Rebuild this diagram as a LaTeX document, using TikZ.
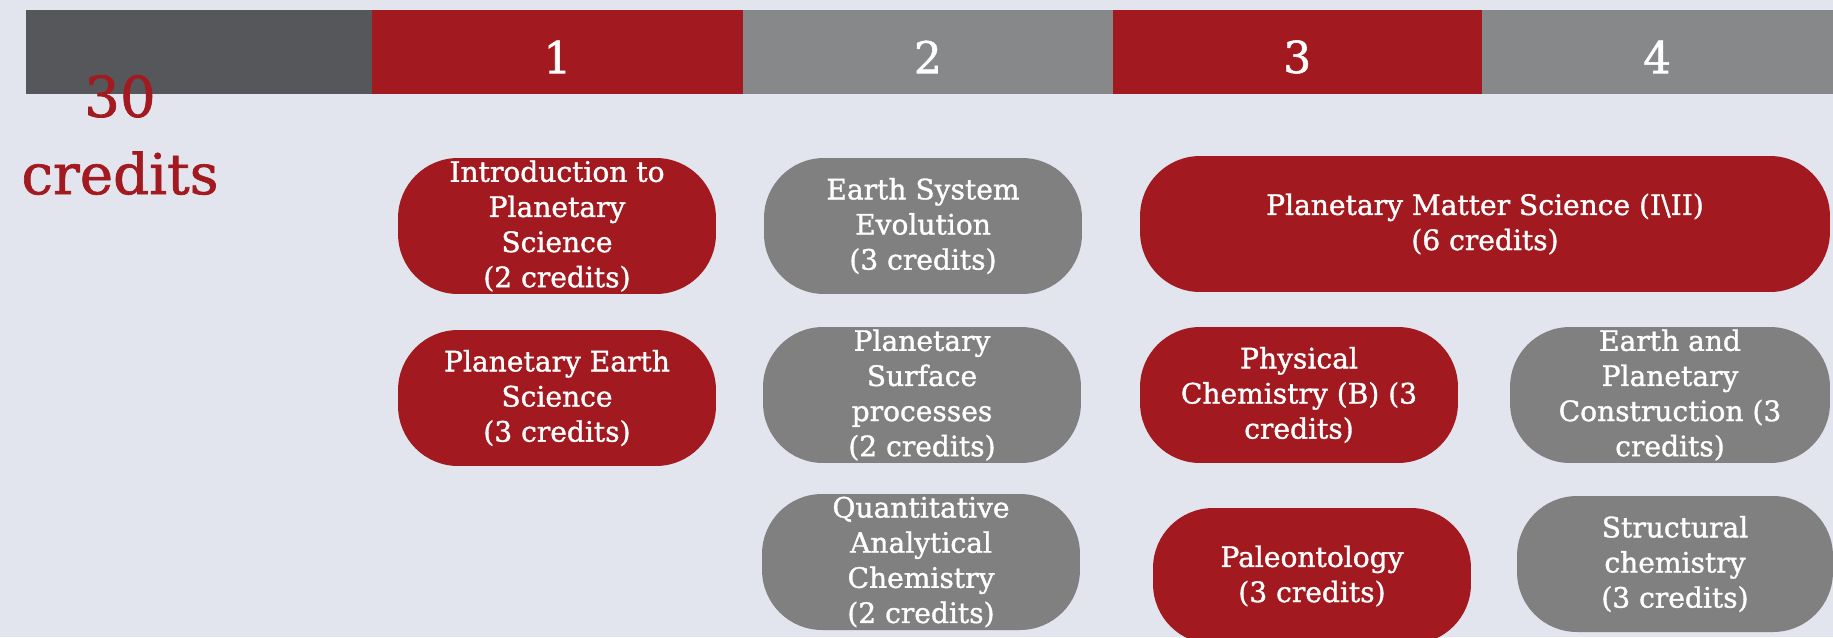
\documentclass[tikz,border=0pt]{standalone}
\usepackage{fontspec}
\setmainfont{DejaVu Serif}[FakeBold=1.2]
\usetikzlibrary{positioning}

\definecolor{hsred}{RGB}{162,26,32}
\definecolor{hsdark}{RGB}{86,87,91}
\definecolor{hsgray}{RGB}{135,136,138}
\definecolor{boxgray}{RGB}{128,128,128}
\definecolor{bgcol}{RGB}{226,228,238}

\tikzset{
  headseg/.style={anchor=north west, inner sep=0pt, outer sep=0pt, minimum height=1.68cm,
    text height=0.85cm, text=white, font=\fontsize{25}{30}\selectfont},
  course/.style={rounded corners=1.2cm, inner sep=0pt, minimum width=6.36cm, minimum height=2.72cm},
  redcourse/.style={course, fill=hsred},
  graycourse/.style={course, fill=boxgray},
  ctext/.style={text=white, align=center, inner sep=0pt, font=\fontsize{16}{20}\selectfont},
  bigred/.style={text=hsred, align=center, font=\fontsize{32}{44}\selectfont}
}

\begin{document}
\begin{tikzpicture}[x=0.02cm, y=-0.02cm]
  \useasboundingbox (0,0) rectangle (1833,637);
  \clip (0,0) rectangle (1833,637);
  \fill[bgcol] (0,0) rectangle (1833,637);

  % Year header
  \node[headseg, fill=hsdark, minimum width=6.92cm] (h0) at (26,10) {};
  \node[headseg, fill=hsred, minimum width=7.42cm, right=0pt of h0] (h1) {1};
  \node[headseg, fill=hsgray, minimum width=7.40cm, right=0pt of h1] (h2) {2};
  \node[headseg, fill=hsred, minimum width=7.38cm, right=0pt of h2] (h3) {3};
  \node[headseg, fill=hsgray, minimum width=7.02cm, right=0pt of h3] (h4) {4};

  % Total
  \node[bigred] (total) at (120,135) {30\\credits};

  % Year 1
  \node[redcourse] (intro) at (557,226) {};
  \node[ctext] at (intro) {Introduction to\\Planetary\\Science\\(2 credits)};
  \node[redcourse] (pes) at (557,398) {};
  \node[ctext] at (pes) {Planetary Earth\\Science\\(3 credits)};

  % Year 2
  \node[graycourse] (ese) at (923,226) {};
  \node[ctext] at (ese) {Earth System\\Evolution\\(3 credits)};
  \node[graycourse] (psp) at (922,395) {};
  \node[ctext] at (psp) {Planetary\\Surface\\processes\\(2 credits)};
  \node[graycourse] (qac) at (921,562) {};
  \node[ctext] at (qac) {Quantitative\\Analytical\\Chemistry\\(2 credits)};

  % Year 3
  \node[redcourse, minimum width=13.8cm] (pms) at (1485,224) {};
  \node[ctext] at (pms) {Planetary Matter Science (I\textbackslash II)\\(6 credits)};
  \node[redcourse] (pchem) at (1299,395) {};
  \node[ctext] at (pchem) {Physical\\Chemistry (B) (3\\credits)};
  \node[redcourse] (paleo) at (1312,576) {};
  \node[ctext] at (paleo) {Paleontology\\(3 credits)};

  % Year 4
  \node[graycourse, minimum width=6.4cm] (epc) at (1670,395) {};
  \node[ctext] at (epc) {Earth and\\Planetary\\Construction (3\\credits)};
  \node[graycourse, minimum width=6.32cm] (struc) at (1675,564) {};
  \node[ctext] at (struc) {Structural\\chemistry\\(3 credits)};
\end{tikzpicture}
\end{document}
